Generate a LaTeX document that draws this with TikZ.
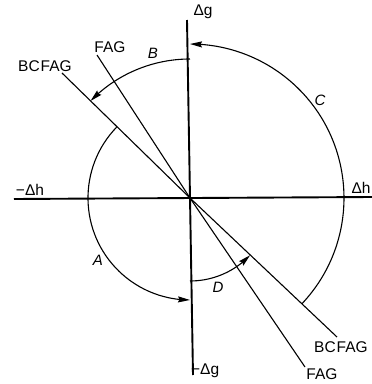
\documentclass[tikz,border=0pt]{standalone}
\usepackage{fontspec}
\setmainfont{Liberation Sans}
\usetikzlibrary{arrows.meta,bending}
\begin{document}
\begin{tikzpicture}[x=1pt,y=1pt,
  axis/.style={line width=1.9pt},
  ray/.style={line width=1.1pt},
  arcline/.style={line width=1.1pt,-{Stealth[length=12pt,width=6pt,inset=1.5pt]}},
  lbl/.style={font=\fontsize{15.5}{17}\selectfont, inner sep=0pt},
  arclbl/.style={font=\fontsize{15}{17}\selectfont\itshape, inner sep=0pt}]
\useasboundingbox (-190,-186) rectangle (182,198);
\coordinate (O) at (0,0);
\coordinate (hL) at (-176,-1);
\coordinate (hR) at (182,1);
\coordinate (vT) at (-3,178);
\coordinate (vB) at (3,-177);
\draw[axis] (hL) -- (hR);
\draw[axis] (vT) -- (vB);
\coordinate (bcU) at (-128,125);
\coordinate (bcL) at (147,-139);
\coordinate (fU) at (-93,143);
\coordinate (fL) at (115,-169);
\draw[ray] (bcU) -- (O) -- (bcL);
\draw[ray] (fU) -- (O) -- (fL);
% arcs
\draw[arcline] (O) ++(-43.4:154) arc[start angle=-43.4,end angle=90,radius=154];
\draw[arcline] (O) ++(90:139) arc[start angle=90,end angle=135.7,radius=139];
\draw[arcline] (O) ++(136:102) arc[start angle=136,end angle=270,radius=102];
\draw[arcline] (O) ++(270:83) arc[start angle=270,end angle=316.4,radius=83];
% labels
\node[lbl] (lgT) at (13,186) {Δg};
\node[lbl] (lhR) at (171,10) {Δh};
\node[lbl] (lhL) at (-160,8) {−Δh};
\node[lbl,anchor=west] (lgB) at (1,-173) {−Δg};
\node[lbl] (bc1) at (-145,132) {BC\kern1pt FAG};
\node[lbl] (f1) at (-80,151) {FAG};
\node[lbl] (bc2) at (151,-149) {BC\kern1pt FAG};
\node[lbl] (f2) at (132,-176) {FAG};
\node[arclbl] (lB) at (-37,145) {B};
\node[arclbl] (lC) at (130,98) {C};
\node[arclbl] (lA) at (-92,-62) {A};
\node[arclbl] (lD) at (28,-89) {D};
\end{tikzpicture}
\end{document}
